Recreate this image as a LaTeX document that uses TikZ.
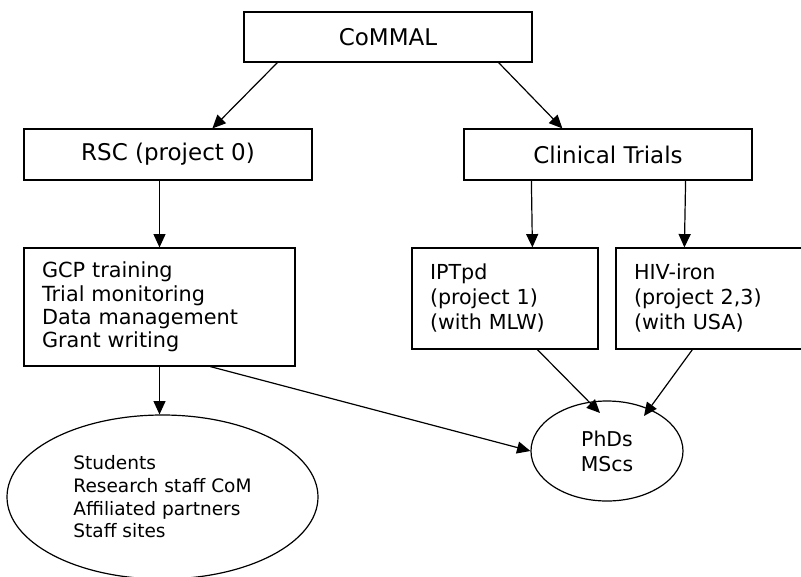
\documentclass[tikz,border=0pt]{standalone}
\usepackage{fontspec}
\setmainfont{DejaVu Sans}
\usetikzlibrary{arrows.meta,calc,shapes.geometric}
\begin{document}
\begin{tikzpicture}[x=0.75pt,y=-0.75pt,line width=0.9pt,
    box/.style={draw,rectangle,minimum width=216pt,minimum height=38.25pt,font=\fontsize{17.25}{20}\selectfont},
    listbox/.style={draw,rectangle,align=left,inner xsep=13.5pt,inner ysep=0pt,minimum height=75.75pt,font=\fontsize{15.5}{18.75}\selectfont},
    blob/.style={draw,ellipse,inner sep=0pt,align=left},
    arr/.style={-{Triangle[length=10pt,width=9pt]}}]

    \useasboundingbox (0,0) rectangle (801,576);

    % top level
    \node[box,minimum height=37.5pt] (commal) at (388,37) {CoMMAL};
    \node[box] (rsc) at (168,154.5) {RSC (project 0)};
    \node[box] (clin) at (608,154.5) {Clinical Trials};

    % activities and projects
    \node[listbox,text width=176.25pt,minimum height=88.5pt,font=\fontsize{15.6}{17.5}\selectfont] (gcp) at (159.5,307)
        {GCP training\\Trial monitoring\\Data management\\Grant writing};
    \node[listbox,text width=112.5pt] (ipt) at (505,298.5) {IPTpd\\(project 1)\\(with MLW)};
    \node[listbox,text width=118.5pt] (hiv) at (713,298.5) {HIV-iron\\(project 2,3)\\(with USA)};

    % people
    \node[blob,minimum width=233.25pt,minimum height=123pt,font=\fontsize{13.9}{17}\selectfont] (students) at (162.5,497)
        {Students\\Research staff CoM\\Affiliated partners\\Staff sites};
    \node[blob,align=center,minimum width=114pt,minimum height=75pt,font=\fontsize{15.3}{18.75}\selectfont] (phd) at (607,451)
        {PhDs\\MScs};

    % arrows
    \draw[arr] ($(commal.south west)+(34,0)$) -- ($(rsc.north west)+(189,0)$);
    \draw[arr] ($(commal.south east)+(-34,0)$) -- ($(clin.north west)+(99,0)$);
    \draw[arr] (rsc.south -| gcp.north) -- (gcp.north);
    \draw[arr] ($(clin.south west)+(68,0)$) -- ($(ipt.north west)+(121,0)$);
    \draw[arr] ($(clin.south east)+(-67,0)$) -- ($(hiv.north west)+(69,0)$);
    \draw[arr] (gcp.south) -- (gcp.south |- students.north);
    \draw[arr] ($(gcp.south west)+(187,0)$) -- (phd.west);
    \draw[arr] ($(ipt.south west)+(126,0)$) -- ($(phd.center)+(-7,-38)$);
    \draw[arr] ($(hiv.south west)+(77,0)$) -- ($(phd.center)+(37,-35)$);

\end{tikzpicture}
\end{document}
